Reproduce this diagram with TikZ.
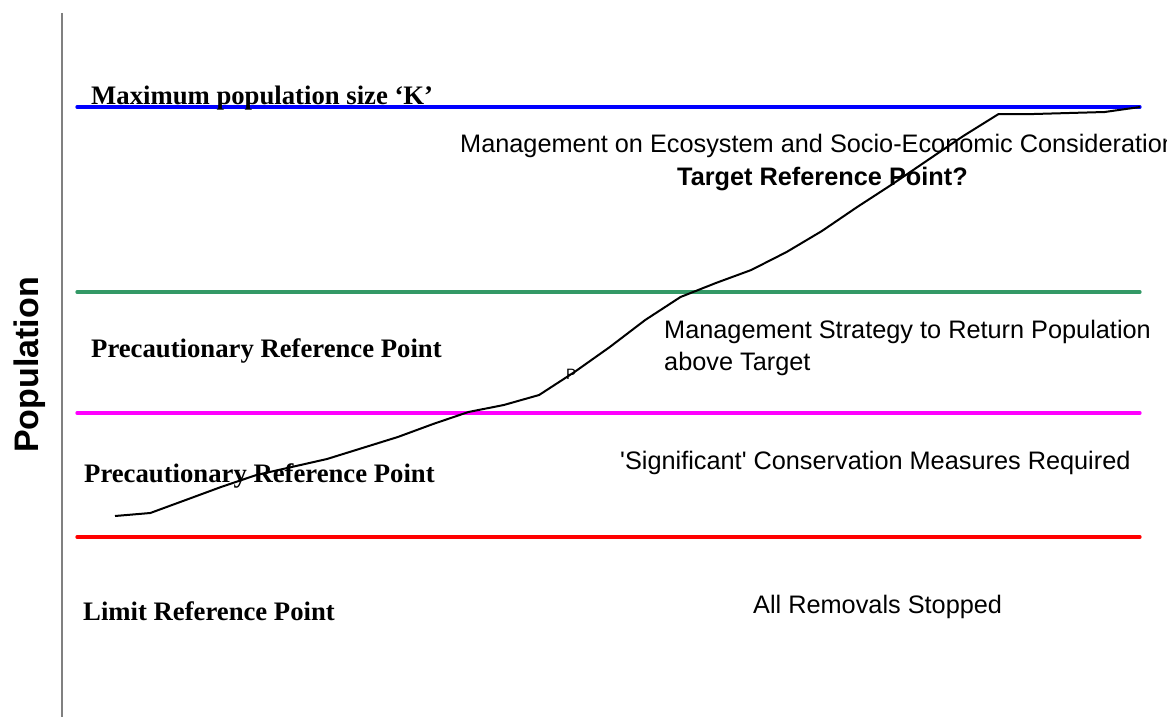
\documentclass[tikz,border=0pt]{standalone}
\usepackage{fontspec}
\setmainfont{Liberation Serif}
\setsansfont{Liberation Sans}
\definecolor{seagreen}{RGB}{51,153,102}
\definecolor{axisgray}{RGB}{128,128,128}
\definecolor{pinkline}{RGB}{255,0,255}
\definecolor{blueline}{RGB}{0,0,255}
\definecolor{redline}{RGB}{255,0,0}

\begin{document}
\begin{tikzpicture}[x=1pt,y=-1pt,
		refline/.style={line width=3.3pt,line cap=round},
		lbl/.style={anchor=base west,inner sep=0pt,font=\fontsize{26.7}{32}\selectfont\rmfamily\bfseries},
		txt/.style={anchor=base west,inner sep=0pt,font=\fontsize{25.3}{30}\selectfont\sffamily}]
			\useasboundingbox (0,0) rectangle (1174,717);
			\coordinate (T) at (62,13);
			\coordinate (O) at (62,717);
			\coordinate (KL) at (77,107);
			\coordinate (KR) at (1140,107);
			\coordinate (PL) at (77,292);
			\coordinate (PR) at (1140,292);
			\coordinate (QL) at (77,413);
			\coordinate (QR) at (1140,413);
			\coordinate (LL) at (77,537);
			\coordinate (LR) at (1140,537);
			\draw[axisgray,line width=2pt] (T)--(O);
			\draw[refline,blueline] (KL)--(KR);
			\draw[refline,seagreen] (PL)--(PR);
			\draw[refline,pinkline] (QL)--(QR);
			\draw[refline,redline] (LL)--(LR);
			\node[rotate=90,anchor=base,inner sep=0pt,font=\fontsize{34}{40}\selectfont\sffamily\bfseries] (pop) at (38,365) {Population};
			\node[lbl] (kmax) at (91,104) {Maximum population size ‘K’};
			\node[lbl] (prp) at (91,357) {Precautionary Reference Point};
			\node[lbl] (prq) at (84,482) {Precautionary Reference Point};
			\node[lbl] (lrp) at (83,620) {Limit Reference Point};
			\begin{scope}
				\clip (0,0) rectangle (1166,717);
				\node[txt] (eco) at (460,152) {Management on Ecosystem and Socio-Economic Consideration};
			\end{scope}
			\node[txt,font=\fontsize{25.3}{30}\selectfont\sffamily\bfseries] (trp) at (677,185) {Target Reference Point?};
			\node[txt] (ret) at (664,338) {Management Strategy to Return Population};
			\node[txt] (abv) at (664,370) {above Target};
			\node[txt] (sig) at (620,469) {\textquotesingle Significant\textquotesingle{} Conservation Measures Required};
			\node[txt] (stop) at (753,613) {All Removals Stopped};
			\node[txt,font=\fontsize{15}{18}\selectfont\sffamily] (p) at (566,379) {P};
			\draw[line width=2pt,line join=round] (115,516)--(150.3,513)--(185.7,500)--(221,487)--(256.4,475)--(291.7,467)
				--(327,459)--(362.4,448)--(397.8,437)--(433.1,424)--(468.4,412)--(503.8,405)--(539.1,395)
				--(574.5,372)--(609.8,347)--(645.2,320)--(680.5,297)--(715.9,283)--(751.2,270)--(786.6,252)
				--(821.9,231)--(857.2,207)--(892.6,184)--(927.9,160)--(963.3,136)--(998.6,114)--(1034,114)
				--(1069.3,113)--(1104.7,112)--(1140,107);
		\end{tikzpicture}
\end{document}
